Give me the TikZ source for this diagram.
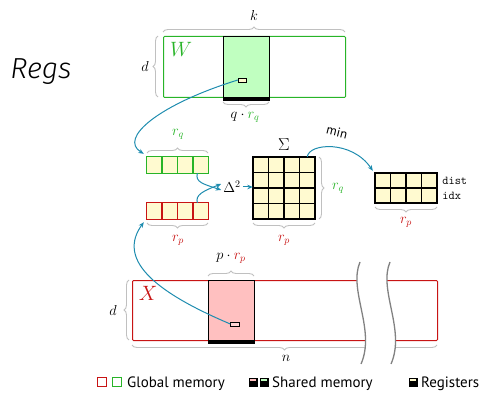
\documentclass[tikz,border=0pt]{standalone}
\usepackage{fontspec}
\setmainfont{PT Sans}
\newfontfamily\handfont{Fira Sans Light}
\usetikzlibrary{decorations.pathreplacing, arrows.meta}

\definecolor{gline}{RGB}{40,180,40}
\definecolor{gfill}{RGB}{192,255,192}
\definecolor{rline}{RGB}{200,20,20}
\definecolor{rfill}{RGB}{255,192,192}
\definecolor{cream}{RGB}{255,250,208}
\definecolor{flow}{RGB}{30,140,175}
\definecolor{bracegray}{RGB}{192,192,192}
\definecolor{breakgray}{RGB}{130,130,130}

\begin{document}
\begin{tikzpicture}[x=1pt, y=-1pt,
  mem/.style={draw, line width=1pt, rounded corners=1pt, inner sep=0pt, anchor=north west},
  tile/.style={draw=black, line width=1.3pt, inner sep=0pt, anchor=north west},
  reg/.style={draw=black, fill=cream, line width=0.8pt, inner sep=0pt, minimum width=8.5pt, minimum height=4pt},
  cell/.style={fill=cream, inner sep=0pt, minimum width=15.5pt, minimum height=15.5pt},
  cellline/.style={line width=1.3pt},
  sizebrace/.style={draw=bracegray, line width=0.9pt, decorate, decoration={brace, amplitude=5pt}},
  flowarrow/.style={draw=flow, line width=1pt, -{Stealth[length=5.5pt, width=4.5pt]}},
  lbl/.style={font=\fontsize{14}{16}\selectfont, inner sep=1pt},
  legbox/.style={minimum size=9pt, inner sep=0pt},
  legtext/.style={anchor=base west, font=\fontsize{15}{17}\selectfont, inner sep=0pt}]
\useasboundingbox (0,0) rectangle (485,393);

% title
\node[font=\handfont\itshape\fontsize{29}{31}\selectfont] (title) at (41,72) {Regs};

% ---------------- matrix W (global) with its shared tile ----------------
\node[mem, draw=gline, minimum width=182pt, minimum height=61pt] (W) at (163,36) {};
\node[tile, fill=gfill, minimum width=46pt, minimum height=61pt] (wtile) at (223,36) {};
\draw[line width=2.6pt] ([yshift=-1.3pt]wtile.south west) -- ([yshift=-1.3pt]wtile.south east);
\node[reg] (wreg) at (242.5,80) {};
\node[font=\fontsize{21}{23}\selectfont, text=gline] (wname) at (181,49) {$W$};

\draw[sizebrace] (163,32) -- (345,32);
\node[lbl] (klbl) at (254,16) {$k$};
\draw[sizebrace] (158,97) -- (158,36);
\node[lbl] (dw) at (145,67) {$d$};
\draw[sizebrace] (269,102) -- (223,102);
\node[lbl] (qr) at (245,117) {$q\cdot{\color{gline}r_q}$};

% ---------------- register rows ----------------
\foreach \i in {1,...,4} {
  \node[cell, minimum width=15.25pt, minimum height=16pt] (q\i) at ({147+7.625+15.25*(\i-1)},165) {};
  \node[cell, minimum width=15.25pt, minimum height=16pt] (p\i) at ({147+7.625+15.25*(\i-1)},211) {};
}
\foreach \i in {1,...,4} {
  \draw[cellline, gline] (q\i.north west) rectangle (q\i.south east);
  \draw[cellline, rline] (p\i.north west) rectangle (p\i.south east);
}

\draw[sizebrace] (147,153) -- (208,153);
\node[lbl] (rq1) at (178,134) {$\color{gline}r_q$};
\draw[sizebrace] (208,223) -- (147,223);
\node[lbl] (rp1) at (178,240) {$\color{rline}r_p$};

% ---------------- distance block ----------------
\foreach \i in {1,...,4}
  \foreach \j in {1,...,4}
    \node[cell] (m\i\j) at ({253+7.75+15.5*(\j-1)},{157+7.75+15.5*(\i-1)}) {};
\foreach \i in {1,...,4}
  \foreach \j in {1,...,4}
    \draw[cellline] (m\i\j.north west) rectangle (m\i\j.south east);
\draw[line width=1.9pt] (m11.north west) rectangle (m44.south east);

\node[lbl, inner sep=2pt] (delta) at (232,187) {$\Delta^2$};
\node[font=\fontsize{18}{20}\selectfont] (sigma) at (284,145) {$\Sigma$};

\draw[sizebrace] (319,157) -- (319,219);
\node[lbl] (rq2) at (338,188) {$\color{gline}r_q$};
\draw[sizebrace] (315,223) -- (253,223);
\node[lbl] (rp2) at (284,240) {$\color{rline}r_p$};

% ---------------- reduced output ----------------
\foreach \i in {1,2}
  \foreach \j in {1,...,4}
    \node[cell, minimum height=15pt] (o\i\j) at ({375+7.75+15.5*(\j-1)},{173+7.5+15*(\i-1)}) {};
\foreach \i in {1,2}
  \foreach \j in {1,...,4}
    \draw[cellline] (o\i\j.north west) rectangle (o\i\j.south east);
\draw[line width=1.9pt] (o11.north west) rectangle (o24.south east);
\node[anchor=west, font=\ttfamily\fontsize{12}{14}\selectfont, inner sep=0pt] (dist) at ([xshift=5pt]o14.east) {dist};
\node[anchor=west, font=\ttfamily\fontsize{12}{14}\selectfont, inner sep=0pt] (idx) at ([xshift=5pt]o24.east) {idx};
\draw[sizebrace] (437,207) -- (375,207);
\node[lbl] (rp3) at (406,222) {$\color{rline}r_p$};

% ---------------- matrix X (global) with its shared tile ----------------
\node[mem, draw=rline, minimum width=305pt, minimum height=60pt] (X) at (132,280) {};
\node[tile, fill=rfill, minimum width=46pt, minimum height=60pt] (xtile) at (208,280) {};
\draw[line width=2.6pt] ([yshift=-1.3pt]xtile.south west) -- ([yshift=-1.3pt]xtile.south east);
\node[reg, fill=rfill!70!white] (xreg) at (235,324) {};
\node[font=\fontsize{20}{22}\selectfont, text=rline] (xname) at (148,293) {$X$};

\draw[sizebrace] (208,276) -- (254,276);
\node[lbl] (pr) at (231,258) {$p\cdot{\color{rline}r_p}$};
\draw[sizebrace] (129,340) -- (129,280);
\node[lbl] (dx) at (113,310) {$d$};
\draw[sizebrace] (437,345) -- (132,345);
\node[lbl] (nlbl) at (286,358) {$n$};

% axis break across X
\fill[white] (360,262) .. controls (348,290) and (376,330) .. (361,364)
  -- (391,364) .. controls (406,330) and (378,290) .. (390,262) -- cycle;
\draw[breakgray, line width=1.3pt] (360,262) .. controls (348,290) and (376,330) .. (361,364);
\draw[breakgray, line width=1.3pt] (390,262) .. controls (378,290) and (406,330) .. (391,364);

% ---------------- data flow ----------------
\draw[flowarrow] (wreg.west) .. controls (160,104) and (118,138) .. ([shift={(-3,-3)}]q1.north west);
\draw[flowarrow] (xreg.west) .. controls (150,290) and (118,258) .. ([shift={(-3,3)}]p1.south west);
\draw[flowarrow] ([xshift=-3pt]q4.south) .. controls (195,182) and (203,184) .. ([yshift=-3pt]delta.west);
\draw[flowarrow] ([xshift=-3pt]p4.north) .. controls (195,195) and (203,191) .. ([yshift=3pt]delta.west);
\draw[flowarrow] (delta.east) -- (delta.east -| m11.west);
\draw[flowarrow] (m14.north) .. controls (309,143) and (352,140) .. ([shift={(-2,-2)}]o11.north west);
\node[font=\fontsize{13}{15}\selectfont, rotate=-14, inner sep=0pt] (minlbl) at (337,132) {min};

% ---------------- legend ----------------
\node[legbox, draw=rline, line width=0.9pt] (lgr) at (102,382) {};
\node[legbox, draw=gline, line width=0.9pt] (lgg) at (117,382) {};
\node[legtext] (lgglob) at (127,387) {Global memory};

\node[legbox, fill=black] (lsr) at (253,382) {};
\fill[rfill] ([shift={(1.3,1.3)}]lsr.north west) rectangle ([shift={(-1.3,4)}]lsr.north east);
\node[legbox, fill=black] (lsg) at (264,382) {};
\fill[gfill] ([shift={(1.3,1.3)}]lsg.north west) rectangle ([shift={(-1.3,4)}]lsg.north east);
\node[legtext] (lgshared) at (272,387) {Shared memory};

\node[legbox, fill=black] (lrg) at (413,382) {};
\fill[cream] ([shift={(1.3,1.3)}]lrg.north west) rectangle ([shift={(-1.3,4)}]lrg.north east);
\node[legtext] (lgreg) at (421,387) {Registers};
\end{tikzpicture}
\end{document}
